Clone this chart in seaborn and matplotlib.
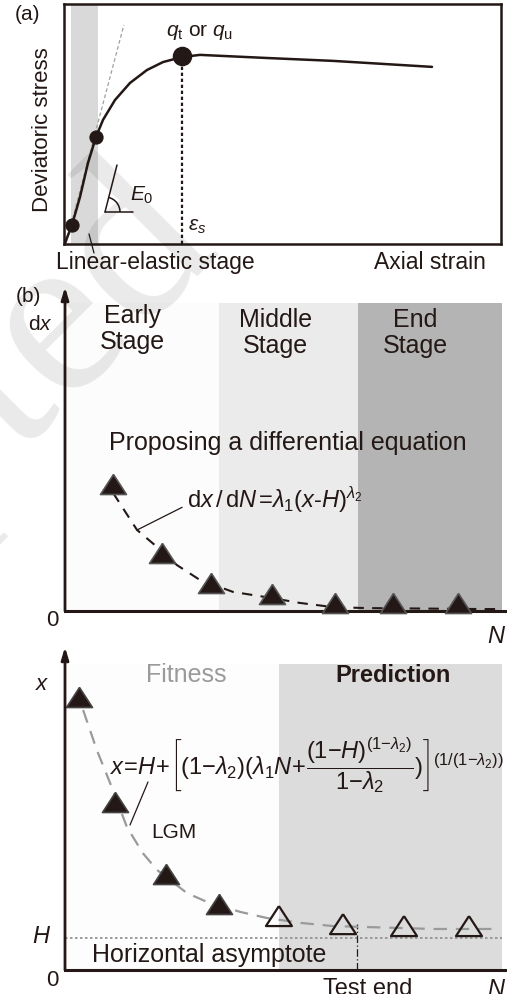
import numpy as np
import pandas as pd
import matplotlib
matplotlib.use("Agg")
import matplotlib.pyplot as plt
import seaborn as sns
from matplotlib.patches import Arc
from matplotlib.transforms import IdentityTransform

# ---------------- data ----------------
# Panel (a): schematic stress-strain curve (arbitrary units)
strain = [0.23, 1.83, 3.66, 5.49, 7.32, 8.92, 11.67, 15.10, 18.99, 22.65, 27.00, 31.12, 46.45, 61.56, 84.21]
stress = [0.42, 7.92, 19.6, 33.8, 44.6, 51.7, 60.0, 67.1, 72.5, 75.8, 77.9, 78.8, 77.5, 76.3, 73.8]
key_strain = [1.83, 7.32]
key_stress = [7.92, 44.6]
peak_strain = [27.0]
peak_stress = [78.3]
tangent_strain = [0.5, 13.7]
tangent_stress = [0.4, 91.3]
band_a = (1.6, 7.8)

# Panel (b) top: increments dx vs N
N_b1 = [1.09, 2.20, 3.30, 4.68, 6.11, 7.42, 8.89]
dx_b1 = [3.92, 1.79, 0.86, 0.52, 0.25, 0.25, 0.25]
N_b1_fit = [1.09, 1.63, 2.08, 2.53, 3.05, 3.80, 4.68, 5.31, 6.06, 6.83, 9.46, 9.84]
dx_b1_fit = [3.64, 2.50, 1.98, 1.42, 0.96, 0.59, 0.40, 0.25, 0.12, 0.09, 0.06, 0.06]
stage_bounds = [0.0, 3.48, 6.63, 9.89]
stage_names = ["Early\nStage", "Middle\nStage", "End\nStage"]
stage_colors = ["#fcfcfc", "#ebebeb", "#b4b4b4"]
stage_top = 9.51

# Panel (b) bottom: cumulative x vs N
N_fit_pts = [0.32, 1.13, 2.29, 3.48]
x_fit_pts = [8.45, 5.20, 2.97, 2.04]
N_pred_pts = [4.84, 6.29, 7.67, 9.14]
x_pred_pts = [1.67, 1.42, 1.36, 1.36]
N_lgm = [0.41, 0.72, 1.02, 1.40, 1.76, 2.08, 2.76, 3.21, 3.96, 4.57, 5.32, 6.06, 6.83, 8.33, 9.84]
x_lgm = [8.05, 6.81, 5.79, 4.43, 3.62, 3.10, 2.38, 2.11, 1.80, 1.61, 1.46, 1.36, 1.33, 1.27, 1.27]
H_value = 0.99
test_end_N = 6.61
pred_range = (4.84, 9.89)
pred_top = 9.47

# ---------------- style ----------------
sns.set_theme(style="white")
plt.rcParams["font.family"] = ["Liberation Sans", "DejaVu Sans"]
plt.rcParams["mathtext.fontset"] = "custom"
plt.rcParams["mathtext.rm"] = "Liberation Sans"
plt.rcParams["mathtext.it"] = "Liberation Sans:italic"
plt.rcParams["mathtext.bf"] = "Liberation Sans:bold"

INK = "#231815"
W, H = 507, 994
fig = plt.figure(figsize=(W / 100, H / 100), dpi=100)
fig.patch.set_facecolor("white")


def fx(px):
    return px / W


def fy(py):
    return 1 - py / H


def axes_px(l, t, r, b):
    a = fig.add_axes([l / W, 1 - b / H, (r - l) / W, (b - t) / H])
    a.set_facecolor("none")
    return a


def ftext(px, py, s, **kw):
    kw.setdefault("ha", "center")
    kw.setdefault("va", "center")
    kw.setdefault("color", INK)
    return fig.text(fx(px), fy(py), s, **kw)


tri = [(0, 0.77), (-1, -0.77), (1, -0.77), (0, 0.77)]

# ================= Panel (a) =================
ax = axes_px(64, 4, 501, 244)
ax.set_xlim(0, 100)
ax.set_ylim(0, 100)
ax.axvspan(*band_a, color="#d9d9d9", lw=0, zorder=0)
ax.plot(tangent_strain, tangent_stress, ls=(0, (3, 2)), color="#a0a0a0", lw=0.9, zorder=1)
sns.lineplot(x=strain, y=stress, ax=ax, sort=False, color=INK, lw=1.8, zorder=2)
ax.plot([peak_strain[0]] * 2, [0, peak_stress[0]], ls=(0, (1.5, 1.2)), color=INK, lw=1.6, zorder=1)
sns.scatterplot(x=key_strain, y=key_stress, ax=ax, s=90, color=INK, edgecolor=INK, zorder=3)
sns.scatterplot(x=peak_strain, y=peak_stress, ax=ax, s=170, color=INK, edgecolor=INK, zorder=3)
for sp in ax.spines.values():
    sp.set_linewidth(1.8)
    sp.set_color(INK)
ax.set_xticks([])
ax.set_yticks([])
ax.set_xlabel("")
ax.set_ylabel("")

# E0 angle symbol (pixel space)
fig.add_artist(plt.Line2D([fx(105), fx(133)], [fy(212), fy(212)], color=INK, lw=1.1))
fig.add_artist(plt.Line2D([fx(105), fx(117)], [fy(212), fy(165)], color=INK, lw=1.1))
fig.add_artist(Arc((105, H - 212), 30, 30, theta1=0, theta2=76, transform=IdentityTransform(), color=INK, lw=1.1))
ftext(130, 195, r"$E_{\rm 0}$", fontsize=15, ha="left")
ftext(188, 226, r"$\varepsilon_{s}$", fontsize=15, ha="left")
ftext(200, 32, r"$q_{\rm t}$ or $q_{\rm u}$", fontsize=15)
ftext(43, 130, "Deviatoric stress", fontsize=16, rotation=90)
ftext(155, 262, "Linear-elastic stage", fontsize=16.5)
ftext(430, 262, "Axial strain", fontsize=16.5)
ftext(28, 14, "(a)", fontsize=15)
fig.add_artist(plt.Line2D([fx(89), fx(94)], [fy(234), fy(253)], color=INK, lw=0.9))

# ================= Panel (b) top =================
ax1 = axes_px(65, 287, 507, 611)
ax1.set_xlim(0, 10)
ax1.set_ylim(0, 10)
for i in range(3):
    ax1.fill_between([stage_bounds[i], stage_bounds[i + 1]], 0, stage_top,
                     color=stage_colors[i], lw=0, zorder=0)
sns.lineplot(x=N_b1_fit, y=dx_b1_fit, ax=ax1, sort=False, color=INK, lw=1.5, zorder=2)
ax1.lines[-1].set_dashes((5, 4))
sns.scatterplot(x=N_b1, y=dx_b1, ax=ax1, marker=tri, s=350, color=INK,
                edgecolor="#555555", linewidth=1.2, zorder=3, clip_on=False)
ax1.text(1.52, 8.7, stage_names[0], fontsize=18, ha="center", va="center", color=INK, linespacing=1.08)
ax1.text(4.77, 8.58, stage_names[1], fontsize=18, ha="center", va="center", color=INK, linespacing=1.08)
ax1.text(7.92, 8.58, stage_names[2], fontsize=18, ha="center", va="center", color=INK, linespacing=1.08)
ax1.text(5.05, 5.2, "Proposing a differential equation", fontsize=18, ha="center", va="center", color=INK)
ax1.text(2.76, 3.43, r"$\mathrm{d}x\,/\,\mathrm{d}N\,$=$\lambda_{1}(x$-$H)^{\lambda_{2}}$",
         fontsize=17, ha="left", va="center", color=INK)
ax1.plot([1.63, 2.65], [2.5, 3.2], color=INK, lw=0.9)
for sp in ["top", "right", "left"]:
    ax1.spines[sp].set_visible(False)
ax1.spines["bottom"].set_linewidth(2.2)
ax1.spines["bottom"].set_color(INK)
ax1.annotate("", xy=(0, 1.0), xytext=(0, 0), xycoords="axes fraction",
             arrowprops=dict(arrowstyle="-|>,head_width=0.18,head_length=0.6", color=INK, lw=2.0,
                             shrinkA=0, shrinkB=0))
ax1.set_xticks([])
ax1.set_yticks([])
ax1.set_xlabel("")
ax1.set_ylabel("")
ftext(28, 297, "(b)", fontsize=15)
ftext(40, 325, r"d$x$", fontsize=15)
ftext(52, 621, "0", fontsize=16)
ftext(497, 637, r"$N$", fontsize=17)

# ================= Panel (b) bottom =================
ax2 = axes_px(65, 647, 507, 970)
ax2.set_xlim(0, 10)
ax2.set_ylim(0, 10)
ax2.fill_between([0, pred_range[0]], 0, pred_top, color="#fdfdfd", lw=0, zorder=0)
ax2.fill_between(list(pred_range), 0, pred_top, color="#dcdcdc", lw=0, zorder=0)
ax2.plot([0, pred_range[1]], [H_value, H_value], ls=(0, (1.5, 1.5)), color="#8c8c8c", lw=1.2, zorder=1)
ax2.plot([test_end_N, test_end_N], [0, x_pred_pts[1]], ls=(0, (6, 2, 1, 2)), color=INK, lw=0.9, zorder=1)
sns.lineplot(x=N_lgm, y=x_lgm, ax=ax2, sort=False, color="#9a9a9a", lw=1.6, zorder=2)
ax2.lines[-1].set_dashes((6, 4))
sns.scatterplot(x=N_fit_pts, y=x_fit_pts, ax=ax2, marker=tri, s=350, color=INK,
                edgecolor="#444444", linewidth=1.2, zorder=3, clip_on=False)
sns.scatterplot(x=N_pred_pts, y=x_pred_pts, ax=ax2, marker=tri, s=350, facecolor="none",
                edgecolor=INK, linewidth=1.6, zorder=3, clip_on=False)
for sp in ["top", "right", "left"]:
    ax2.spines[sp].set_visible(False)
ax2.spines["bottom"].set_linewidth(2.2)
ax2.spines["bottom"].set_color(INK)
ax2.annotate("", xy=(0, 1.0), xytext=(0, 0), xycoords="axes fraction",
             arrowprops=dict(arrowstyle="-|>,head_width=0.18,head_length=0.6", color=INK, lw=2.0,
                             shrinkA=0, shrinkB=0))
ax2.set_xticks([])
ax2.set_yticks([])
ax2.set_xlabel("")
ax2.set_ylabel("")

ftext(186, 675, "Fitness", fontsize=18, color="#9a9a9a")
ftext(393, 675, "Prediction", fontsize=17, weight="bold")
ftext(42, 684, r"$x$", fontsize=16)
ftext(42, 937, r"$H$", fontsize=17)
ftext(52, 980, "0", fontsize=16)
ftext(497, 990, r"$N$", fontsize=17)
ftext(368, 978, "Test end", fontsize=17, va="top")
ftext(174, 832, "LGM", fontsize=15)
ftext(92, 955, "Horizontal asymptote", fontsize=18, ha="left")
ftext(110, 765,
      r"$x\!=\!H\!+\!\left[(1\mathrm{-}\lambda_{2})(\lambda_{1}N\!+\!\dfrac{(1\mathrm{-}H)^{(1\mathrm{-}\lambda_{2})}}{1\mathrm{-}\lambda_{2}})\right]^{(1/(1\mathrm{-}\lambda_{2}))}$",
      fontsize=17, ha="left")
fig.add_artist(plt.Line2D([fx(148), fx(130)], [fy(782), fy(825)], color=INK, lw=0.9))

# faint watermark on top (translucent)
fig.text(fx(222), fy(250), "Accepted", family="Liberation Serif", fontsize=170,
         color="black", alpha=0.085, rotation=45, rotation_mode="anchor",
         ha="right", va="baseline", zorder=10)

fig.savefig("out.png", dpi=100, facecolor="white")
